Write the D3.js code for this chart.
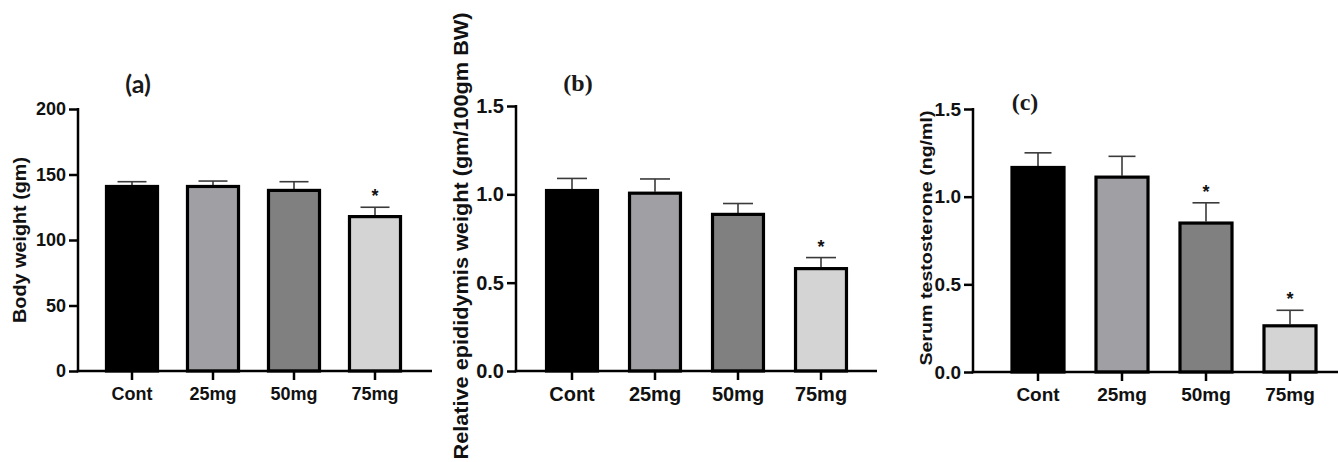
<!DOCTYPE html>
<html>
<head>
<meta charset="utf-8">
<script src="https://cdn.jsdelivr.net/npm/d3@7"></script>
<style>
  body { margin: 0; background: #fff; }
  svg text { font-family: "Liberation Sans", Arial, sans-serif; font-weight: bold; fill: #111; }
</style>
</head>
<body>
<div id="chart-area"></div>
<script>
var groups = ["Cont", "25mg", "50mg", "75mg"];
var fills = ["#000000", "#a09fa4", "#808080", "#d4d4d4"];

// panel (a) body weight
var bodyWeight = [142, 142, 139, 119];
var bodyWeightErr = [144.5, 145, 144.5, 125];
var bodyWeightStar = [false, false, false, true];
var bodyWeightTicks = [0, 50, 100, 150, 200];

// panel (b) relative epididymis weight
var epiWeight = [1.03, 1.015, 0.895, 0.588];
var epiWeightErr = [1.09, 1.087, 0.948, 0.642];
var epiWeightStar = [false, false, false, true];
var epiWeightTicks = [0, 0.5, 1.0, 1.5];

// panel (c) serum testosterone
var testo = [1.175, 1.12, 0.858, 0.272];
var testoErr = [1.25, 1.23, 0.965, 0.352];
var testoStar = [false, false, true, true];
var testoTicks = [0, 0.5, 1.0, 1.5];

var panels = [
  { tag: "(a)", tagFont: "Lato, 'Open Sans', sans-serif", tagSize: 25, tagX: 138, tagY: 93,
    ylabel: "Body weight (gm)", ylabelX: 20, ylabelY: 240, ylabelSize: 18, ylabelLen: 166,
    vals: bodyWeight, errs: bodyWeightErr, stars: bodyWeightStar, ticks: bodyWeightTicks, fmt: d3.format("d"),
    ymax: 200, left: 78, right: 432, top: 109, bottom: 371, band: [91.5, 415.5], pad: 0.333,
    fs: 18, cap: 29 },
  { tag: "(b)", tagFont: "'Liberation Serif', serif", tagSize: 24, tagX: 578, tagY: 91,
    ylabel: "Relative epididymis weight (gm/100gm BW)", ylabelX: 461, ylabelY: 236, ylabelSize: 21, ylabelLen: 447,
    vals: epiWeight, errs: epiWeightErr, stars: epiWeightStar, ticks: epiWeightTicks, fmt: d3.format(".1f"),
    ymax: 1.5, left: 516, right: 877, top: 106, bottom: 371, band: [530.5, 862.5], pad: 0.35,
    fs: 20, cap: 30 },
  { tag: "(c)", tagFont: "'Liberation Serif', serif", tagSize: 24, tagX: 1025, tagY: 110,
    ylabel: "Serum testosterone (ng/ml)", ylabelX: 926, ylabelY: 238, ylabelSize: 17, ylabelLen: 255,
    vals: testo, errs: testoErr, stars: testoStar, ticks: testoTicks, fmt: d3.format(".1f"),
    ymax: 1.5, left: 973, right: 1338, top: 109, bottom: 372, band: [996, 1332], pad: 0.345,
    fs: 19, cap: 27 }
];

var svg = d3.select("#chart-area").append("svg")
    .attr("width", 1338)
    .attr("height", 462);

panels.forEach(function(p) {
    var g = svg.append("g");

    var xScale = d3.scaleBand()
        .domain(groups)
        .range(p.band)
        .paddingInner(p.pad)
        .paddingOuter(p.pad / 2);

    var yScale = d3.scaleLinear()
        .domain([0, p.ymax])
        .range([p.bottom, p.top]);

    var data = groups.map(function(k, i) {
        return { name: k, v: p.vals[i], e: p.errs[i], star: p.stars[i], fill: fills[i] };
    });

    // error bars (drawn first so the bar outline covers the base)
    g.selectAll("line.err").data(data).enter().append("line")
        .attr("class", "err")
        .attr("x1", function(d) { return xScale(d.name) + xScale.bandwidth() / 2; })
        .attr("x2", function(d) { return xScale(d.name) + xScale.bandwidth() / 2; })
        .attr("y1", function(d) { return yScale(d.v); })
        .attr("y2", function(d) { return yScale(d.e); })
        .style("stroke", "#3a3a3a")
        .style("stroke-width", 1.6);

    g.selectAll("line.cap").data(data).enter().append("line")
        .attr("class", "cap")
        .attr("x1", function(d) { return xScale(d.name) + xScale.bandwidth() / 2 - p.cap / 2; })
        .attr("x2", function(d) { return xScale(d.name) + xScale.bandwidth() / 2 + p.cap / 2; })
        .attr("y1", function(d) { return yScale(d.e); })
        .attr("y2", function(d) { return yScale(d.e); })
        .style("stroke", "#3a3a3a")
        .style("stroke-width", 1.6);

    // bars
    g.selectAll("rect").data(data).enter().append("rect")
        .attr("x", function(d) { return xScale(d.name) + 1.5; })
        .attr("width", xScale.bandwidth() - 3)
        .attr("y", function(d) { return yScale(d.v) + 1.5; })
        .attr("height", function(d) { return yScale(0) - yScale(d.v) - 1.5; })
        .style("fill", function(d) { return d.fill; })
        .style("stroke", "#000")
        .style("stroke-width", 3.2);

    g.selectAll("text.star").data(data.filter(function(d) { return d.star; })).enter().append("text")
        .attr("class", "star")
        .attr("x", function(d) { return xScale(d.name) + xScale.bandwidth() / 2; })
        .attr("y", function(d) { return yScale(d.e) - 5; })
        .attr("text-anchor", "middle")
        .style("font-size", "18px")
        .text("*");

    // y axis
    var yAxis = d3.axisLeft(yScale)
        .tickValues(p.ticks)
        .tickFormat(p.fmt)
        .tickSize(9)
        .tickSizeOuter(0)
        .tickPadding(3);
    var ya = g.append("g")
        .attr("transform", "translate(" + p.left + ",0)")
        .call(yAxis);
    ya.select(".domain").remove();
    ya.selectAll(".tick line").style("stroke", "#000").style("stroke-width", 2.5);
    ya.selectAll(".tick text").style("font-size", p.fs + "px").style("fill", "#111");

    // x axis
    var xAxis = d3.axisBottom(xScale)
        .tickSize(9)
        .tickSizeOuter(0)
        .tickPadding(7);
    var xa = g.append("g")
        .attr("transform", "translate(0," + p.bottom + ")")
        .call(xAxis);
    xa.select(".domain").remove();
    xa.selectAll(".tick line").style("stroke", "#000").style("stroke-width", 2.5);
    xa.selectAll(".tick text").style("font-size", p.fs + "px").style("fill", "#111");

    // axis lines
    g.append("line")
        .attr("x1", p.left).attr("x2", p.left)
        .attr("y1", p.top - 1).attr("y2", p.bottom + 1.25)
        .style("stroke", "#000").style("stroke-width", 2.5);
    g.append("line")
        .attr("x1", p.left - 1.25).attr("x2", p.right)
        .attr("y1", p.bottom).attr("y2", p.bottom)
        .style("stroke", "#000").style("stroke-width", 2.5);

    // y label
    g.append("text")
        .attr("transform", "translate(" + p.ylabelX + "," + p.ylabelY + ") rotate(-90)")
        .attr("text-anchor", "middle")
        .attr("dy", "0.35em")
        .attr("textLength", p.ylabelLen)
        .attr("lengthAdjust", "spacingAndGlyphs")
        .style("font-size", p.ylabelSize + "px")
        .text(p.ylabel);

    // panel tag
    g.append("text")
        .attr("x", p.tagX)
        .attr("y", p.tagY)
        .attr("text-anchor", "middle")
        .style("font-family", p.tagFont)
        .style("font-size", p.tagSize + "px")
        .style("fill", "#1a1a1a")
        .text(p.tag);
});
</script>
</body>
</html>
